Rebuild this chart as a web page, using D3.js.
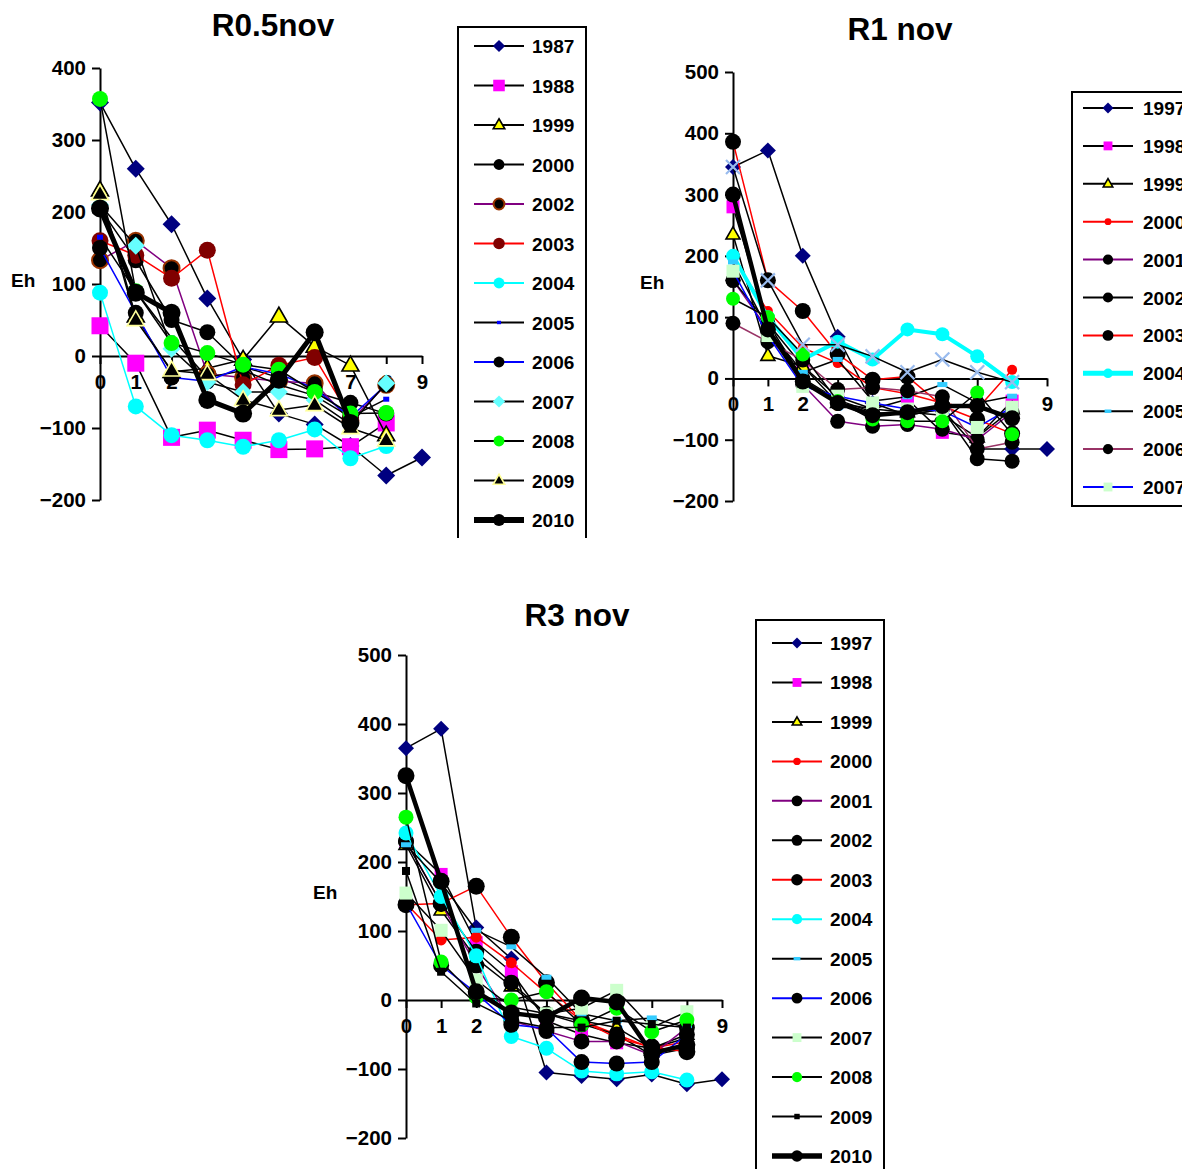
<!DOCTYPE html>
<html><head><meta charset="utf-8">
<script src="https://cdn.jsdelivr.net/npm/d3@7"></script>
<style>body{margin:0;background:#fff} text{font-family:"Liberation Sans",Arial,sans-serif;font-weight:bold;fill:#000}</style>
</head><body><svg id="c" width="1182" height="1169"></svg>
<script>
// ---------- data ----------
const xTicks = [0,1,2,3,4,5,6,7,8,9];
const yTicksA = [-200,-100,0,100,200,300,400];
const yTicksB = [-200,-100,0,100,200,300,400,500];

const r05Years = ["1987","1988","1999","2000","2002","2003","2004","2005","2006","2007","2008","2009","2010"];
const r05Values = [
  [352,260,183,80,-5,-80,-95,-125,-166,-141],
  [42,-10,-113,-103,-117,-130,-129,-126,-93],
  [230,55,-22,-17,-5,55,13,-13,-110],
  [205,133,50,33,-15,-30,-50,-65,-80],
  [133,160,122,-25,-30,-35,-38,-90,-40],
  [160,140,108,147,-40,-13,-2,-85],
  [88,-70,-110,-117,-126,-117,-102,-142,-125],
  [165,90,25,-30,-20,-40,-55,-85,-60],
  [150,60,-30,-35,-15,-25,-45,-85,-40],
  [210,153,10,-36,-50,-50,-61,-95,-38],
  [357,90,18,4,-12,-19,-50,-80,-79],
  [225,50,-20,-25,-61,-75,-68,-100,-117],
  [205,88,60,-61,-80,-33,33,-93]
];

const r1Years = ["1997","1998","1999","2000","2001","2002","2003","2004","2005","2006","2007","2008","2009","2010"];
const r1Values = [
  [345,372,200,68,-40,-60,-50,-115,-115,-115],
  [280,90,20,-30,-50,-34,-88,-96,-37],
  [235,37,20,-40,-50,-55,-60,-96,-50],
  [195,110,50,25,-15,-25,-40,-50,14],
  [160,80,-10,-70,-78,-75,-83,-100,-55],
  [160,90,0,-35,-55,-60,-50,-131,-135],
  [386,160,110,40,-2,3,-45,-67,-90],
  [200,100,31,60,31,80,72,36,-6],
  [190,80,10,31,-37,-30,-10,-40,-29],
  [90,60,30,-18,-15,-20,-30,-115,-104],
  [175,70,-13,-29,-40,-50,-53,-80,-47],
  [130,100,39,-37,-67,-70,-70,-23,-91],
  [345,160,55,55,36,10,31,10,-6],
  [300,80,-5,-40,-60,-55,-45,-45,-65]
];

const r3Years = ["1997","1998","1999","2000","2001","2002","2003","2004","2005","2006","2007","2008","2009","2010"];
const r3Values = [
  [365,393,105,60,-105,-110,-115,-108,-122,-115],
  [230,182,83,41,-30,-50,-62,-70,-55],
  [225,130,60,20,-20,-30,-40,-70,-50],
  [140,87,91,54,10,-30,-50,-70,-60],
  [230,140,50,-30,-45,-60,-60,-80,-40],
  [230,140,70,25,-20,-35,-50,-80,-70],
  [138,140,165,91,25,-30,-55,-68,-75],
  [242,150,64,-53,-70,-103,-107,-104,-116],
  [225,170,101,77,33,-20,-30,-26,-40],
  [140,50,10,-36,-41,-90,-92,-90,-50],
  [155,101,29,-10,-20,-12,14,-40,-17],
  [265,55,4,0,12,-36,-12,-46,-29],
  [187,41,-5,-30,-40,-40,-30,-35,-40],
  [325,172,12,-19,-25,3,-3,-77,-65]
];

// ---------- styles ----------
const S = (line, lw, m, fill, stroke, size) => ({line, lw, m, fill, stroke, size});
const r05Styles = {
  "1987": S("#000",1.5,"diamond","#000080","#000080",9),
  "1988": S("#000",1.5,"square","#FF00FF","#FF00FF",17),
  "1999": S("#000",1.5,"triangle","#FFFF00","#000",17),
  "2000": S("#000",1.5,"circle","#000","#000",8),
  "2002": S("#800080",1.5,"circle","#000","#993300",8),
  "2003": S("#FF0000",1.5,"circle","#800000","#800000",8.5),
  "2004": S("#00FFFF",1.5,"circle","#00FFFF","#00FFFF",8),
  "2005": S("#000",1.5,"dash","#0000FF","#0000FF",6),
  "2006": S("#0000FF",1.5,"circle","#000","#000",8),
  "2007": S("#000",1.5,"diamond","#66FFFF","#66FFFF",9),
  "2008": S("#000",1.5,"circle","#00FF00","#00FF00",8),
  "2009": S("#000",1.5,"triangle","#000","#FFFF99",17),
  "2010": S("#000",5,"circle","#000","#000",9)
};
const r1Styles = {
  "1997": S("#000",1.5,"diamond","#000080","#000080",8),
  "1998": S("#000",1.5,"square","#FF00FF","#FF00FF",13),
  "1999": S("#000",1.5,"triangle","#FFFF00","#000",14),
  "2000": S("#FF0000",1.5,"circle","#FF0000","#FF0000",5),
  "2001": S("#800080",1.5,"circle","#000","#000",7.5),
  "2002": S("#000",1.5,"circle","#000","#000",7.5),
  "2003": S("#FF0000",1.5,"circle","#000","#000",8),
  "2004": S("#00FFFF",4,"circle","#00FFFF","#00FFFF",7),
  "2005": S("#000",1.5,"dash","#33CCFF","#33CCFF",10),
  "2006": S("#993366",1.5,"circle","#000","#000",7.5),
  "2007": S("#0000FF",1.5,"square","#CCFFCC","#CCFFCC",13),
  "2008": S("#000",1.5,"circle","#00FF00","#00FF00",7),
  "2009": S("#000",1.5,"cross","none","#99BBEE",7),
  "2010": S("#000",4.5,"circle","#000","#000",8)
};
const r3Styles = {
  "1997": S("#000",1.5,"diamond","#000080","#000080",8),
  "1998": S("#000",1.5,"square","#FF00FF","#FF00FF",13),
  "1999": S("#000",1.5,"triangle","#FFFF00","#000",14),
  "2000": S("#FF0000",1.5,"circle","#FF0000","#FF0000",5.5),
  "2001": S("#800080",1.5,"circle","#000","#000",8),
  "2002": S("#000",1.5,"circle","#000","#000",8),
  "2003": S("#FF0000",1.5,"circle","#000","#000",8.5),
  "2004": S("#00FFFF",1.5,"circle","#00FFFF","#00FFFF",7.5),
  "2005": S("#000",1.5,"dash","#33CCFF","#33CCFF",10),
  "2006": S("#0000FF",1.5,"circle","#000","#000",8),
  "2007": S("#000",1.5,"square","#CCFFCC","#CCFFCC",13),
  "2008": S("#000",1.5,"circle","#00FF00","#00FF00",7.5),
  "2009": S("#000",1.5,"square","#000","#000",8),
  "2010": S("#000",4.5,"circle","#000","#000",8.5)
};

// ---------- drawing ----------
const svg = d3.select("#c");

function marker(g, st, cx, cy, k) {
  const s = st.size * k;
  if (st.m === "circle") {
    g.append("circle").attr("cx",cx).attr("cy",cy).attr("r",s)
      .attr("fill",st.fill).attr("stroke",st.stroke).attr("stroke-width",st.stroke!==st.fill?2:0);
  } else if (st.m === "square") {
    g.append("rect").attr("x",cx-s/2).attr("y",cy-s/2).attr("width",s).attr("height",s).attr("fill",st.fill);
  } else if (st.m === "diamond") {
    g.append("path").attr("d",`M${cx},${cy-s}L${cx+s},${cy}L${cx},${cy+s}L${cx-s},${cy}Z`).attr("fill",st.fill);
  } else if (st.m === "triangle") {
    const h = s*0.87;
    g.append("path").attr("d",`M${cx},${cy-h*0.62}L${cx+s/2},${cy+h*0.38}L${cx-s/2},${cy+h*0.38}Z`)
      .attr("fill",st.fill).attr("stroke",st.stroke).attr("stroke-width",1.6).attr("stroke-linejoin","miter");
  } else if (st.m === "dash") {
    g.append("rect").attr("x",cx-s/2).attr("y",cy-2.5*k).attr("width",s).attr("height",5*k).attr("fill",st.fill);
  } else if (st.m === "cross") {
    g.append("path").attr("d",`M${cx-s},${cy-s}L${cx+s},${cy+s}M${cx-s},${cy+s}L${cx+s},${cy-s}`)
      .attr("stroke",st.stroke).attr("stroke-width",2.2).attr("fill","none");
  }
}

function panel(cfg) {
  const x = d3.scaleLinear().domain([0,9]).range(cfg.xr);
  const y = d3.scaleLinear().domain(cfg.yd).range(cfg.yr);
  const g = svg.append("g");

  const ya = g.append("g").attr("transform",`translate(${x(0)},0)`)
    .call(d3.axisLeft(y).tickValues(cfg.yt).tickSize(8).tickSizeOuter(0).tickPadding(6).tickFormat(d3.format("d")));
  const xa = g.append("g").attr("transform",`translate(0,${y(0)})`)
    .call(d3.axisBottom(x).tickValues(xTicks).tickSize(8).tickSizeOuter(0).tickPadding(10).tickFormat(d3.format("d")));
  [ya,xa].forEach(a=>{
    a.selectAll("path,line").attr("stroke","#000").attr("stroke-width",2);
    a.selectAll("text").attr("font-size",20.5).attr("font-family","Liberation Sans, Arial, sans-serif").attr("font-weight","bold").attr("fill","#000");
  });

  const line = d3.line().x((d,i)=>x(i)).y(d=>y(d));
  const sg = g.append("g");
  cfg.values.forEach((vals,si)=>{
    const st = cfg.styles[cfg.years[si]];
    const gg = sg.append("g");
    gg.append("path").attr("d",line(vals)).attr("fill","none").attr("stroke",st.line)
      .attr("stroke-width",st.lw).attr("stroke-linejoin","round");
    vals.forEach((v,i)=>marker(gg,st,x(i),y(v),1));
  });

  g.append("text").attr("x",cfg.title[1]).attr("y",cfg.title[2]).attr("text-anchor","middle")
    .attr("font-size",31.5).text(cfg.title[0]);
  g.append("text").attr("x",cfg.eh[0]).attr("y",cfg.eh[1]).attr("font-size",19).text("Eh");

  // legend
  const L = cfg.leg;
  g.append("path").attr("d",L.box).attr("fill","none").attr("stroke","#000").attr("stroke-width",2);
  cfg.years.slice(0,L.n).forEach((yr,i)=>{
    const st = cfg.styles[yr];
    const cy = L.y0 + i*L.dy;
    g.append("line").attr("x1",L.x1).attr("x2",L.x2).attr("y1",cy).attr("y2",cy)
      .attr("stroke",st.line).attr("stroke-width",st.lw>3?st.lw+1:2);
    marker(g,st,(L.x1+L.x2)/2,cy,0.68);
    g.append("text").attr("x",L.tx).attr("y",cy+7).attr("font-size",19).text(yr);
  });
}

panel({xr:[100,422], yd:[-200,400], yr:[500,68], yt:yTicksA, years:r05Years, values:r05Values, styles:r05Styles,
  title:["R0.5nov",273,36], eh:[11,287],
  leg:{box:"M458,538V27H586V538", n:13, y0:46, dy:39.5, x1:474, x2:524, tx:532}});
panel({xr:[733,1047], yd:[-200,500], yr:[501,72], yt:yTicksB, years:r1Years, values:r1Values, styles:r1Styles,
  title:["R1 nov",900,40], eh:[640,289],
  leg:{box:"M1190,506H1072V92H1190", n:11, y0:108, dy:37.9, x1:1083, x2:1133, tx:1143}});
panel({xr:[406,722], yd:[-200,500], yr:[1138,655], yt:yTicksB, years:r3Years, values:r3Values, styles:r3Styles,
  title:["R3 nov",577,626], eh:[313,899],
  leg:{box:"M756,1175V620H884V1175", n:14, y0:643, dy:39.46, x1:772, x2:822, tx:830}});
</script></body></html>
